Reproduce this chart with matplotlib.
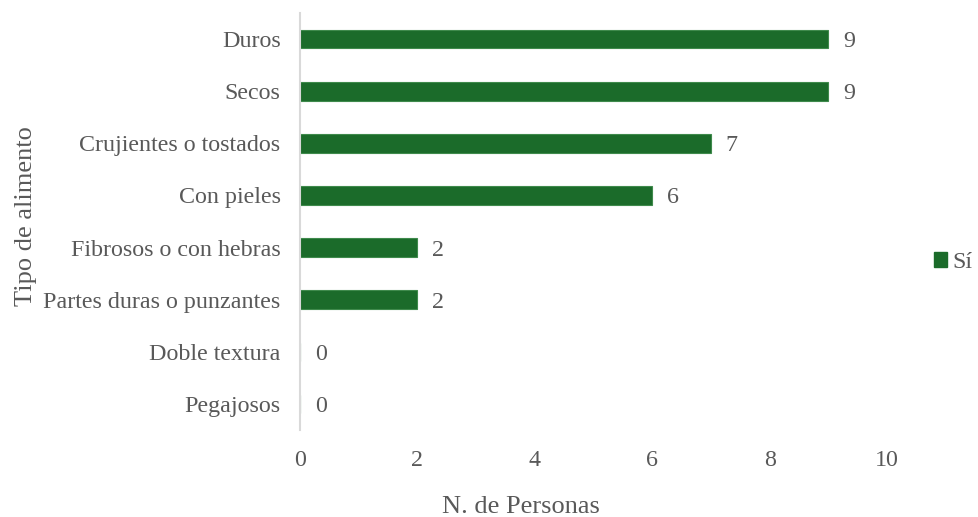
import numpy as np
import matplotlib.pyplot as plt
from matplotlib.patches import Patch

plt.rcParams['font.family'] = ['Liberation Serif', 'DejaVu Serif']

categorias = ['Duros', 'Secos', 'Crujientes o tostados', 'Con pieles',
              'Fibrosos o con hebras', 'Partes duras o punzantes',
              'Doble textura', 'Pegajosos']
valores = [9, 9, 7, 6, 2, 2, 0, 0]
xticks = [0, 2, 4, 6, 8, 10]

gris = '#595959'
verde = '#1b6b2a'
fs = 17.3

fig = plt.figure(figsize=(9.79, 5.17), dpi=100)
ax = fig.add_axes([0.3064, 0.168, 0.5996, 0.807])

y = np.arange(len(categorias))
ax.barh(y, valores, height=0.36, color=verde, edgecolor='#3f8a4c', linewidth=0.8)
for yi, v in zip(y, valores):
    ax.text(v + 0.25, yi, str(v), va='center_baseline', ha='left', fontsize=fs, color=gris)

ax.set_ylim(len(categorias) - 0.5, -0.5)
ax.set_xlim(0, 10)
ax.set_yticks(y)
ax.set_yticklabels(categorias, fontsize=fs, color=gris, va='center_baseline')
ax.set_xticks(xticks)
ax.set_xticklabels([str(t) for t in xticks], fontsize=fs, color=gris)
ax.tick_params(axis='both', length=0)
ax.tick_params(axis='x', pad=14)
ax.tick_params(axis='y', pad=14)
for s in ['top', 'right', 'bottom']:
    ax.spines[s].set_visible(False)
ax.spines['left'].set_color('#d9d9d9')
ax.spines['left'].set_linewidth(1.5)

ax.set_xlabel('N. de Personas', fontsize=19, color=gris, va='center')
ax.xaxis.set_label_coords(0.376, -0.185)
ax.set_ylabel('Tipo de alimento', fontsize=19, color=gris, va='center')
ax.yaxis.set_label_coords(-0.466, 0.513)

fig.legend(handles=[Patch(color=verde, label='Sí')], loc='center left',
           bbox_to_anchor=(0.954, 0.492), frameon=False, fontsize=fs,
           handlelength=0.55, handleheight=0.55, handletextpad=0.2,
           borderaxespad=0, borderpad=0, labelcolor=gris)

fig.savefig('out.png', dpi=100)
